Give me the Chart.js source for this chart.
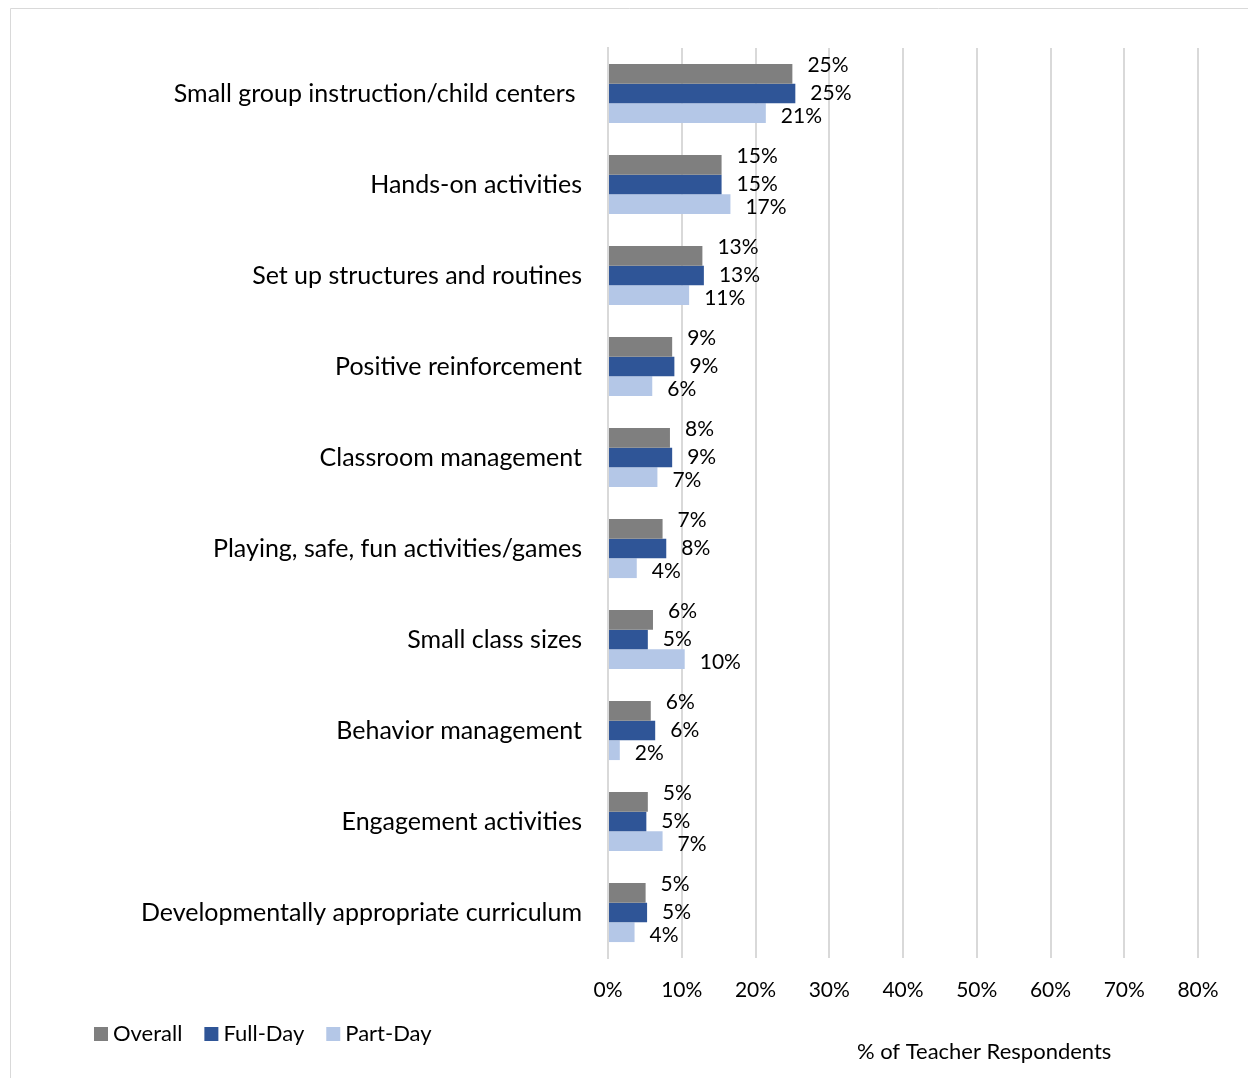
<!DOCTYPE html>
<html>
<head>
<meta charset="utf-8">
<script src="https://cdn.jsdelivr.net/npm/chart.js@4/dist/chart.umd.min.js"></script>
<style>
html,body{margin:0;padding:0;background:#fff;}
#wrap{position:relative;width:1248px;height:1078px;}
</style>
</head>
<body>
<div id="wrap"><canvas id="c" width="1248" height="1078"></canvas></div>
<script>
const categories = [
  "Small group instruction/child centers ",
  "Hands-on activities",
  "Set up structures and routines",
  "Positive reinforcement",
  "Classroom management",
  "Playing, safe, fun activities/games",
  "Small class sizes",
  "Behavior management",
  "Engagement activities",
  "Developmentally appropriate curriculum"
];
const seriesNames = ["Overall", "Full-Day", "Part-Day"];
const overall = [25.0, 15.4, 12.8, 8.7, 8.4, 7.4, 6.1, 5.8, 5.4, 5.1];
const fullDay = [25.4, 15.4, 13.0, 9.0, 8.7, 7.9, 5.4, 6.4, 5.2, 5.3];
const partDay = [21.4, 16.6, 11.0, 6.0, 6.7, 3.9, 10.4, 1.6, 7.4, 3.6];
const xTicks = [0, 10, 20, 30, 40, 50, 60, 70, 80];
const axisTitle = "% of Teacher Respondents";

const FONT = "Lato, 'Open Sans', sans-serif";
const colors = ["#7f7f7f", "#2f5597", "#b4c7e7"];
const labelDy = [-9, 0, 3];

const borderPlugin = {
  id: 'frame',
  beforeDraw(chart) {
    const ctx = chart.ctx;
    ctx.save();
    ctx.strokeStyle = '#d9d9d9';
    ctx.lineWidth = 1;
    ctx.beginPath();
    ctx.moveTo(10.5, 1078);
    ctx.lineTo(10.5, 8.5);
    ctx.lineTo(1248, 8.5);
    ctx.stroke();
    ctx.restore();
  }
};

const labelPlugin = {
  id: 'valueLabels',
  afterDatasetsDraw(chart) {
    const ctx = chart.ctx;
    ctx.save();
    ctx.font = "21px " + FONT;
    ctx.fillStyle = '#000';
    ctx.textAlign = 'left';
    ctx.textBaseline = 'middle';
    chart.data.datasets.forEach((ds, di) => {
      const meta = chart.getDatasetMeta(di);
      meta.data.forEach((el, i) => {
        ctx.fillText(Math.round(ds.data[i]) + '%', el.x + 15, el.y + labelDy[di]);
      });
    });
    // axis title
    ctx.font = "22px " + FONT;
    ctx.textAlign = 'center';
    const xs = chart.scales.x;
    ctx.fillText(axisTitle, xs.getPixelForValue(51), 1052);
    // legend
    ctx.font = "22px " + FONT;
    ctx.textAlign = 'left';
    let x = 94;
    const yc = 1034;
    chart.data.datasets.forEach((ds) => {
      ctx.fillStyle = ds.backgroundColor;
      ctx.fillRect(x, yc - 7, 14, 14);
      ctx.fillStyle = '#000';
      ctx.fillText(ds.label, x + 19, yc);
      x += 19 + ctx.measureText(ds.label).width + 22;
    });
    ctx.restore();
  }
};

new Chart(document.getElementById('c'), {
  type: 'bar',
  data: {
    labels: categories,
    datasets: [
      { label: seriesNames[0], data: overall, backgroundColor: colors[0] },
      { label: seriesNames[1], data: fullDay, backgroundColor: colors[1] },
      { label: seriesNames[2], data: partDay, backgroundColor: colors[2] }
    ]
  },
  options: {
    indexAxis: 'y',
    responsive: false,
    animation: false,
    devicePixelRatio: 1,
    categoryPercentage: 0.65,
    barPercentage: 1.0,
    layout: { padding: { left: 84, top: 48, right: 50, bottom: 64 } },
    scales: {
      x: {
        min: 0, max: 80,
        afterBuildTicks: (s) => { s.ticks = xTicks.map(v => ({ value: v })); },
        afterFit: (s) => { s.height = 56; },
        grid: { color: '#d9d9d9', lineWidth: 2, drawTicks: false },
        border: { display: false },
        ticks: {
          padding: 20,
          color: '#000',
          font: { family: FONT, size: 21 },
          callback: (v) => v + '%'
        }
      },
      y: {
        afterFit: (s) => { s.width = 524; },
        grid: { display: false, drawTicks: false },
        border: { display: true, color: '#d9d9d9', width: 2 },
        ticks: {
          padding: 26,
          color: '#000',
          font: { family: FONT, size: 25 }
        }
      }
    },
    plugins: {
      legend: { display: false },
      tooltip: { enabled: false }
    }
  },
  plugins: [borderPlugin, labelPlugin]
});
</script>
</body>
</html>
